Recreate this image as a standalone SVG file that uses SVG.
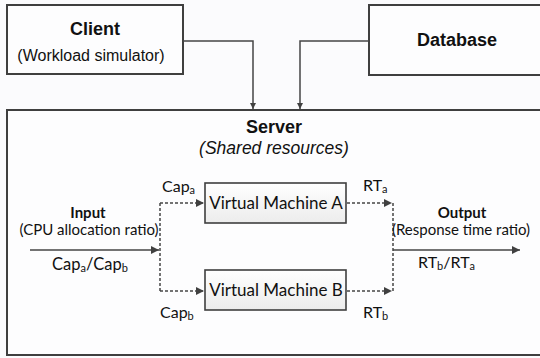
<svg xmlns="http://www.w3.org/2000/svg" width="540" height="358" viewBox="0 0 540 358">
<defs>
<linearGradient id="vmfill" x1="0" y1="0" x2="0" y2="1">
<stop offset="0" stop-color="#ffffff"/>
<stop offset="1" stop-color="#ececec"/>
</linearGradient>
<marker id="ah" viewBox="0 0 10 10" refX="10" refY="5" markerWidth="6" markerHeight="6" markerUnits="userSpaceOnUse" orient="auto">
<path d="M0,0 L10,5 L0,10 z" fill="#404040"/>
</marker>
<marker id="ahl" viewBox="0 0 10 10" refX="10" refY="5" markerWidth="9" markerHeight="8" markerUnits="userSpaceOnUse" orient="auto">
<path d="M0,0 L10,5 L0,10 z" fill="#404040"/>
</marker>
</defs>
<style>
.box{fill:#fdfdfe;stroke:#3f3f3f;stroke-width:2}
.vm{fill:url(#vmfill);stroke:#3f3f3f;stroke-width:1.6}
.solid{fill:none;stroke:#454545;stroke-width:1.5}
.dash{fill:none;stroke:#454545;stroke-width:1.5;stroke-dasharray:3 2}
.arial{font-family:"Liberation Sans",Arial,sans-serif;fill:#111}
.cal{font-family:Lato,"Open Sans",sans-serif;fill:#111}
.b{font-weight:bold}
.sub{font-size:11px;baseline-shift:-2px}
</style>
<rect x="0" y="0" width="540" height="358" fill="#fbfbfd"/>
<g id="server">
<rect class="box" x="7" y="110" width="540" height="245"/>
<text class="arial b" x="274" y="133" font-size="18" text-anchor="middle">Server</text>
<text class="arial" x="274" y="154" font-size="17.5" font-style="italic" text-anchor="middle">(Shared resources)</text>
</g>
<g id="client">
<rect class="box" x="7" y="5" width="176" height="69"/>
<text class="arial b" x="95" y="35" font-size="18" text-anchor="middle">Client</text>
<text class="arial" x="91" y="61" font-size="16" text-anchor="middle">(Workload simulator)</text>
</g>
<g id="database">
<rect class="box" x="369" y="5" width="180" height="70"/>
<text class="arial b" x="457" y="46" font-size="18" text-anchor="middle">Database</text>
</g>
<g id="vmA">
<rect class="vm" x="205" y="183" width="141" height="40"/>
<text class="cal" x="276" y="209" font-size="17" text-anchor="middle">Virtual Machine A</text>
</g>
<g id="vmB">
<rect class="vm" x="205" y="270" width="141" height="40"/>
<text class="cal" x="276" y="296" font-size="17" text-anchor="middle">Virtual Machine B</text>
</g>
<g id="connectors">
<polyline class="solid" points="183,41 253,41 253,109" marker-end="url(#ah)"/>
<polyline class="solid" points="369,41 300,41 300,109" marker-end="url(#ah)"/>
<line class="solid" x1="30" y1="250" x2="159" y2="250" marker-end="url(#ahl)"/>
<line class="dash" x1="160" y1="203" x2="160" y2="291"/>
<line class="dash" x1="160" y1="203" x2="204" y2="203" marker-end="url(#ahl)"/>
<line class="dash" x1="160" y1="291" x2="204" y2="291" marker-end="url(#ahl)"/>
<line class="dash" x1="347" y1="203" x2="392" y2="203" marker-end="url(#ahl)"/>
<line class="dash" x1="347" y1="291" x2="392" y2="291" marker-end="url(#ahl)"/>
<line class="dash" x1="393" y1="203" x2="393" y2="291"/>
<line class="solid" x1="393" y1="250" x2="520" y2="250" marker-end="url(#ahl)"/>
</g>
<g id="labels">
<text class="cal b" x="88" y="218" font-size="15" text-anchor="middle">Input</text>
<text class="cal" x="89" y="235" font-size="15" text-anchor="middle">(CPU allocation ratio)</text>
<text class="cal" x="90" y="270" font-size="16.5" text-anchor="middle">Cap<tspan class="sub">a</tspan>/Cap<tspan class="sub">b</tspan></text>
<text class="cal b" x="462" y="218" font-size="15" text-anchor="middle">Output</text>
<text class="cal" x="461" y="235" font-size="15" text-anchor="middle">(Response time ratio)</text>
<text class="cal" x="418" y="268" font-size="16">RT<tspan class="sub">b</tspan>/RT<tspan class="sub">a</tspan></text>
<text class="cal" x="162" y="192" font-size="16">Cap<tspan class="sub">a</tspan></text>
<text class="cal" x="363" y="191" font-size="16">RT<tspan class="sub">a</tspan></text>
<text class="cal" x="160" y="318" font-size="16">Cap<tspan class="sub">b</tspan></text>
<text class="cal" x="363" y="318" font-size="16">RT<tspan class="sub">b</tspan></text>
</g>
</svg>
